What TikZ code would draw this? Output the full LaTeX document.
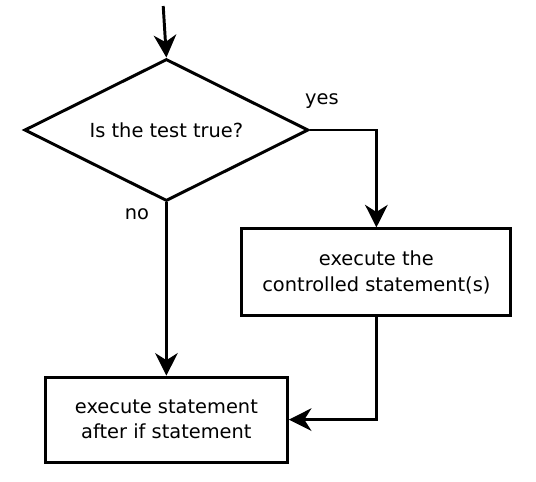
\documentclass[tikz,border=0pt]{standalone}
\usepackage{fontspec}
\setmainfont{DejaVu Sans}
\usetikzlibrary{shapes.geometric,arrows.meta}

\begin{document}
\begin{tikzpicture}[line width=2.1pt, >={Stealth[length=16pt,width=16pt,inset=5pt]},
    font=\fontsize{13.8}{17.8}\selectfont,
    box/.style={draw, align=center, inner sep=0pt}]
  \useasboundingbox (0,0) rectangle (13.4,-12.025);

  \coordinate (entry) at (4.08, -0.15);
  \node[box, diamond, aspect=2, minimum width=7.1cm, minimum height=3.55cm] (test) at (4.16, -3.25) {Is the test true?};
  \node[box, minimum width=6.725cm, minimum height=2.175cm] (ctrl) at (9.41, -6.81) {execute the\\controlled statement(s)};
  \node[box, minimum width=6.05cm, minimum height=2.125cm] (after) at (4.16, -10.49) {execute statement\\after if statement};

  \node (yes) at (8.05, -2.52) {yes};
  \node (no) at (3.425, -5.35) {no};

  \draw[->] (entry) -- (test.north);
  \draw[->] (test.east) -| (ctrl.north);
  \draw[->] (test.south) -- (after.north);
  \draw[->] (ctrl.south) |- (after.east);
\end{tikzpicture}
\end{document}
